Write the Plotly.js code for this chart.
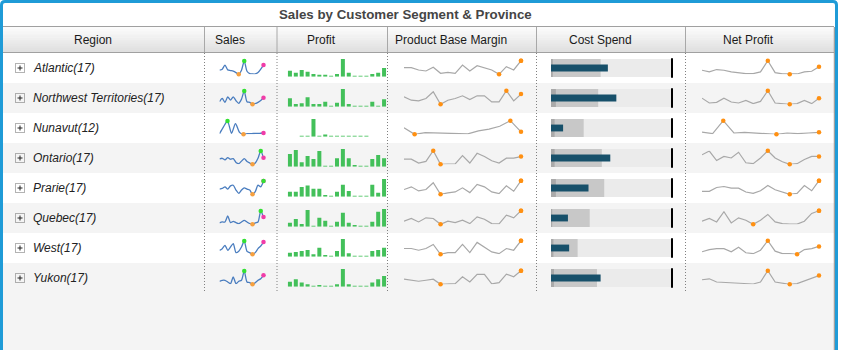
<!DOCTYPE html>
<html><head><meta charset="utf-8">
<script src="https://cdn.plot.ly/plotly-3.0.1.min.js"></script>
<style>html,body{margin:0;padding:0;background:#fff}#chart{width:842px;height:350px}</style>
</head><body><div id="chart"></div>
<script>
// ---------------- DATA ----------------
const chartTitle = "Sales by Customer Segment & Province";
const headers = ["Region", "Sales", "Profit", "Product Base Margin", "Cost Spend", "Net Profit"];
const regions = ["Atlantic", "Northwest Territories", "Nunavut", "Ontario", "Prarie", "Quebec", "West", "Yukon"];
const regionCounts = [17, 17, 12, 17, 17, 17, 17, 17];

const sales = [
  [15,18,30,16,14,12,8,3,15,42,12,5,4,4,8,18,30],
  [10,20,8,25,15,25,13,5,18,43,10,8,2,4,8,14,22],
  [4,25,43,5,35,8,2,4,4,5,5,6],
  [23,25,20,27,22,24,12,8,16,24,15,10,6,10,25,48,27],
  [23,25,30,23,33,35,20,10,20,27,23,20,7,15,35,30,48],
  [12,15,15,33,13,17,13,10,15,20,15,10,8,12,15,48,30],
  [15,20,30,15,25,35,8,12,25,43,12,8,3,8,20,28,40],
  [12,15,15,10,5,25,5,12,15,43,10,8,3,8,15,20,30]
];
const profit = [
  [18,12,20,15,8,6,6,3,8,53,12,3,3,3,8,12,26],
  [25,8,10,28,8,8,15,3,12,53,8,3,3,3,15,3,22],
  [3,3,50,3,6,3,3,3,3,3,3,3],
  [38,50,13,32,23,47,3,3,25,53,25,5,3,3,23,35,25],
  [15,15,30,35,25,25,5,3,15,37,18,3,3,3,37,12,55],
  [12,23,8,50,3,27,18,3,15,42,12,5,3,3,15,45,53],
  [12,14,17,20,7,27,5,3,17,53,10,3,3,3,17,20,27],
  [15,23,13,8,3,5,3,3,8,55,8,3,3,3,13,23,33]
];
const baseMargin = [
  [27,27,20,17,28,10,13,10,35,17,33,27,20,7,30,20,48],
  [30,20,18,25,45,8,20,25,33,22,33,33,15,15,48,18,38],
  [22,3,8,7,4,4,4,13,18,26,42,10],
  [22,22,10,15,48,6,7,7,33,10,40,30,17,10,25,25,30],
  [22,30,18,22,42,8,12,15,27,13,37,30,15,10,33,17,48],
  [17,25,15,27,25,8,17,13,20,10,30,23,10,9,35,27,48],
  [25,25,20,25,37,8,13,13,37,13,43,30,15,10,25,20,48],
  [23,20,17,20,23,8,10,10,30,15,37,37,9,13,38,30,48]
];
const netProfit = [
  [15,10,17,15,10,7,5,5,10,43,8,4,3,4,10,12,25],
  [20,5,7,20,8,5,13,3,10,43,5,3,1,3,13,3,20],
  [8,3,43,5,7,5,3,1,5,3,5,7],
  [35,47,17,30,25,43,10,7,25,48,25,13,5,7,20,30,30],
  [15,15,27,30,25,25,13,9,17,33,20,13,6,9,33,17,48],
  [17,25,15,45,12,27,20,8,20,37,15,10,8.5,8.5,17,40,48],
  [13,20,23,23,13,27,10,7,18,48,15,7,7,5,20,23,30],
  [20,23,13,12,10,10,8,7,13,48,13,10,6,8,17,25,33]
];
const costLow    = [1.5, 4, 3, 3, 4, 1, 2, 2.5];
const costMid    = [41, 39, 27, 42, 44, 32, 22, 38];
const costMax    = [100, 100, 100, 100, 100, 100, 100, 100];
const costActual = [47, 54, 10, 49, 31, 14, 15, 41];
const costTarget = [100, 100, 100, 100, 100, 100, 100, 100];

// ---------------- LAYOUT HELPERS ----------------
const W = 842, H = 350, ROW0 = 53, ROWH = 30;
const colEdges = [3, 204.5, 277, 387.5, 536.5, 685.5, 834];
const FONT = '"Liberation Sans", Arial, Helvetica, sans-serif';
const traces = [];
const layout = {
  width: W, height: H, margin: {l:0, r:0, t:0, b:0, pad:0},
  paper_bgcolor: '#ffffff', plot_bgcolor: 'rgba(0,0,0,0)',
  showlegend: false, barmode: 'overlay', hovermode: false,
  font: {family: FONT, size: 12, color: '#222'},
  shapes: [], annotations: []
};
const fx = x => x / W, fy = y => 1 - y / H;
function rect(x0, y0, x1, y1, fill, line, layer) {
  layout.shapes.push({type:'rect', xref:'paper', yref:'paper', x0:fx(x0), x1:fx(x1), y0:fy(y1), y1:fy(y0),
    fillcolor: fill || 'rgba(0,0,0,0)', line: line || {width:0}, layer: layer || 'below'});
}
function seg(x0, y0, x1, y1, line, layer) {
  layout.shapes.push({type:'line', xref:'paper', yref:'paper', x0:fx(x0), x1:fx(x1), y0:fy(y0), y1:fy(y1),
    line: line, layer: layer || 'below'});
}
let axN = 0;
function axes(x0, x1, y0, y1, xr, yr) {
  axN++;
  const s = axN === 1 ? '' : String(axN);
  layout['xaxis' + s] = {domain:[fx(x0), fx(x1)], range:xr, visible:false, fixedrange:true, anchor:'y' + s};
  layout['yaxis' + s] = {domain:[fy(y1), fy(y0)], range:yr, visible:false, fixedrange:true, anchor:'x' + s};
  return ['x' + s, 'y' + s];
}

// ---------------- BACKGROUND / TABLE ----------------
rect(3, 53, 834, 350, '#f4f4f4');
regions.forEach((r, i) => { if (i % 2 === 0) rect(3, ROW0 + i*ROWH, 834, ROW0 + (i+1)*ROWH, '#ffffff'); });
// header gradient
const hdrTop = 27, hdrBot = 52, steps = 12;
for (let k = 0; k < steps; k++) {
  const t = k / (steps - 1);
  const c = Math.round(251 - t * 27);
  rect(3, hdrTop + k*(hdrBot-hdrTop)/steps, 834, hdrTop + (k+1)*(hdrBot-hdrTop)/steps + 0.3, `rgb(${c},${c},${c})`);
}
seg(3, 26.5, 834, 26.5, {color:'#a0a0a0', width:1});
seg(3, 52.5, 834, 52.5, {color:'#a0a0a0', width:1.2});
colEdges.slice(1, 6).forEach(x => seg(x, 27, x, 52, {color:'#a8a8a8', width:1}));
seg(834.3, 27, 834.3, 350, {color:'#8a8a8a', width:1});
colEdges.slice(1, 6).forEach(x => seg(x, 53, x, ROW0 + regions.length*ROWH, {color:'#808080', width:1, dash:'1px,2px'}, 'above'));

// header texts (offset left, space kept for sort icon)
headers.forEach((h, i) => {
  const cx = (colEdges[i] + colEdges[i+1]) / 2 - 11;
  layout.annotations.push({xref:'paper', yref:'paper', x:fx(cx), y:fy(39.5), text:h, showarrow:false,
    xanchor:'center', yanchor:'middle', font:{family:FONT, size:12, color:'#1a1a1a'}});
});
// title
layout.annotations.push({xref:'paper', yref:'paper', x:fx(405), y:fy(14), text:'<b>' + chartTitle + '</b>',
  showarrow:false, xanchor:'center', yanchor:'middle', font:{family:FONT, size:13.3, color:'#454545'}});

// region labels with expand icons
regions.forEach((r, i) => {
  const cy = ROW0 + i*ROWH + 15;
  rect(15.5, cy - 4.5, 24.5, cy + 4.5, 'rgba(0,0,0,0)', {color:'#666', width:1, dash:'1px,1px'}, 'above');
  seg(17.5, cy, 22.5, cy, {color:'#222', width:1}, 'above');
  seg(20, cy - 2.5, 20, cy + 2.5, {color:'#222', width:1}, 'above');
  layout.annotations.push({xref:'paper', yref:'paper', x:fx(30.5), y:fy(cy), text:'<i>' + r + '(' + regionCounts[i] + ')</i>',
    showarrow:false, xanchor:'left', yanchor:'middle', font:{family:FONT, size:12, color:'#222'}});
});

// ---------------- SPARKLINES ----------------
function lineSpark(vals, x0, x1, y0, y1, lineStyle, shape, mk) {
  const mn = Math.min(...vals), mx = Math.max(...vals);
  const n = vals.length;
  const [xa, ya] = axes(x0, x1, y0, y1, [0, n - 1], [mn, mx]);
  const xs = vals.map((_, i) => i);
  traces.push({type:'scatter', mode:'lines', x:xs, y:vals, xaxis:xa, yaxis:ya, cliponaxis:false,
    line:Object.assign({shape:shape, smoothing:0.7}, lineStyle), hoverinfo:'skip'});
  const iMax = vals.indexOf(mx), iMin = vals.indexOf(mn), iLast = n - 1;
  const idx = [iLast, iMin, iMax];
  traces.push({type:'scatter', mode:'markers', x:idx, y:idx.map(i => vals[i]), xaxis:xa, yaxis:ya, cliponaxis:false,
    marker:{size:mk.size, color:[mk.last, mk.min, mk.max]}, hoverinfo:'skip'});
}

regions.forEach((r, i) => {
  const top = ROW0 + i*ROWH;
  // Sales
  lineSpark(sales[i], 219.5, 263.5, top + 8, top + 21.3, {color:'#4a7dbf', width:1.3}, 'spline',
    {size:4.5, last:'#f03ca8', min:'#f5a040', max:'#33e033'});
  // Profit bars (fixed slot width; shorter series sit a little left of centre)
  const n = profit[i].length, padL = Math.floor((17 - n) / 2), padR = (17 - n) - padL;
  const pmax = Math.max(...profit[i]);
  const [pxa, pya] = axes(287, 387, top + 6, top + 23.7, [-0.5 - padL, n - 0.5 + padR], [0, pmax]);
  traces.push({type:'bar', x:profit[i].map((_, k) => k), y:profit[i], xaxis:pxa, yaxis:pya, width:0.68,
    marker:{color:'#43c05a', line:{width:0}}, hoverinfo:'skip'});
  // Product Base Margin
  lineSpark(baseMargin[i], 404, 521, top + 7.7, top + 21.3, {color:'#a8a8a8', width:1.2}, 'linear',
    {size:4.5, last:'#ff9012', min:'#ff9012', max:'#ff9012'});
  // Cost Spend bullet
  const [cxa, cya] = axes(551, 672, top + 6, top + 24, [0, 100], [-0.5, 0.5]);
  [[costMax[i], '#ebebeb', 1], [costMid[i], '#c8c8c8', 1], [costLow[i], '#a9a9a9', 1], [costActual[i], '#17506a', 0.38]]
    .forEach(([v, col, w]) => traces.push({type:'bar', orientation:'h', x:[v], y:[0], base:0, width:w, xaxis:cxa, yaxis:cya,
      marker:{color:col, line:{width:0}}, hoverinfo:'skip'}));
  traces.push({type:'scatter', mode:'markers', x:[costTarget[i]], y:[0], xaxis:cxa, yaxis:cya, cliponaxis:false,
    marker:{symbol:'line-ns-open', size:14, color:'#000000', line:{color:'#000000', width:2}}, hoverinfo:'skip'});
  // Net Profit
  lineSpark(netProfit[i], 702, 819, top + 7.7, top + 21.3, {color:'#a8a8a8', width:1.2}, 'linear',
    {size:4.5, last:'#ff9012', min:'#ff9012', max:'#ff9012'});
});

// outer blue frame
layout.shapes.push({type:'path', xref:'paper', yref:'paper',
  path:`M ${fx(1.5)} ${fy(352)} L ${fx(1.5)} ${fy(5)} Q ${fx(1.5)} ${fy(1.5)} ${fx(5)} ${fy(1.5)} L ${fx(833)} ${fy(1.5)} Q ${fx(836.5)} ${fy(1.5)} ${fx(836.5)} ${fy(5)} L ${fx(836.5)} ${fy(352)}`,
  line:{color:'#1f9bd7', width:3}, layer:'above'});

Plotly.newPlot('chart', traces, layout, {staticPlot:true, displayModeBar:false});
</script></body></html>
